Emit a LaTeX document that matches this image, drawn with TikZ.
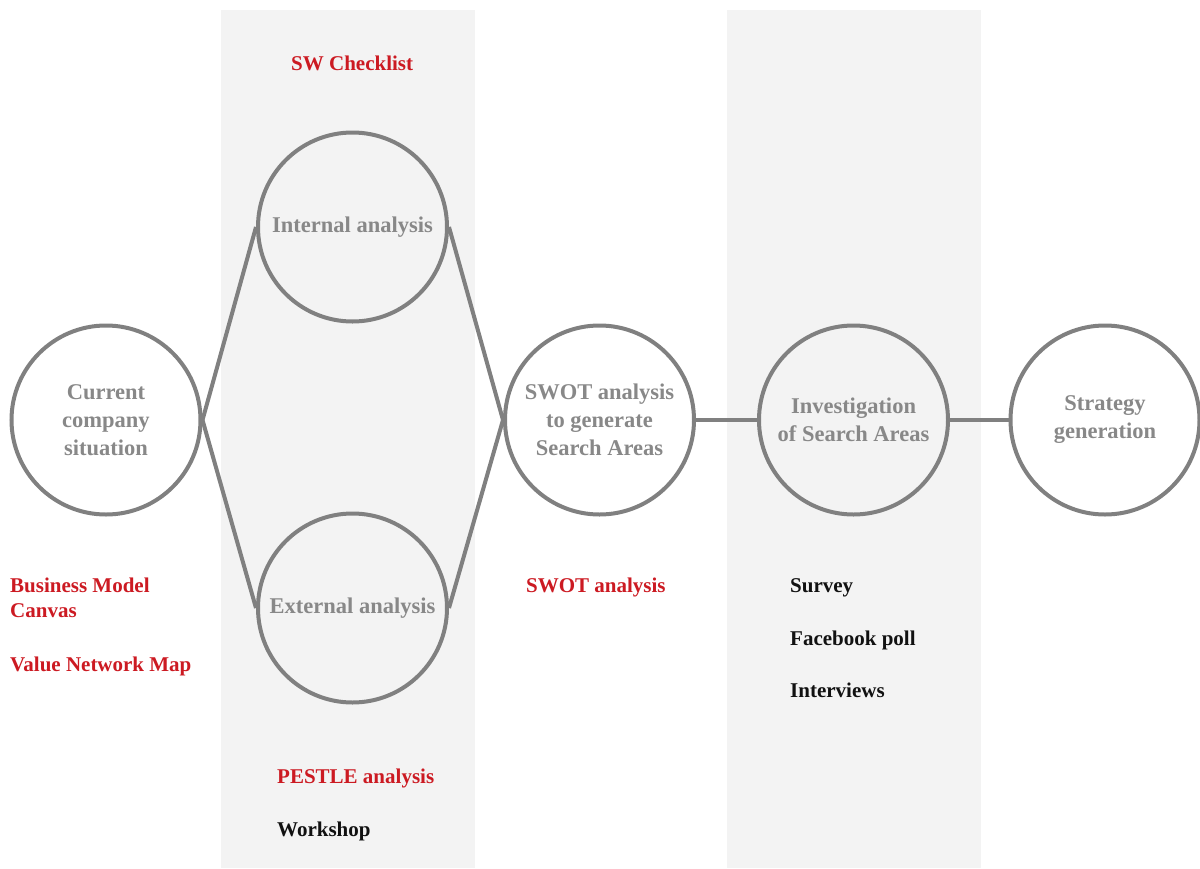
\documentclass[tikz,border=0pt]{standalone}
\usepackage{fontspec}
\setmainfont{Liberation Serif}
\definecolor{band}{HTML}{F3F3F3}
\definecolor{lineg}{HTML}{808080}
\definecolor{textg}{HTML}{888888}
\definecolor{redl}{HTML}{CC1A22}
\definecolor{blackl}{HTML}{111111}
\begin{document}
\begin{tikzpicture}[x=1pt,y=-1pt,
  stage/.style={circle,draw=lineg,line width=4pt,minimum size=189pt,inner sep=0pt,
    text=textg,font=\fontsize{22.5}{28}\selectfont\bfseries,align=center},
  link/.style={draw=lineg,line width=4pt},
  redlabel/.style={anchor=base west,inner sep=0pt,text=redl,font=\fontsize{21}{25}\selectfont\bfseries,align=left},
  blacklabel/.style={anchor=base west,inner sep=0pt,text=blackl,font=\fontsize{21}{25}\selectfont\bfseries}
]
\useasboundingbox (0,0) rectangle (1200,868);
\fill[band] (221,10) rectangle (475,868);
\fill[band] (727,10) rectangle (981,868);

\node[stage] (cur) at (106,420) {Current\\company\\situation};
\node[stage] (int) at (352.5,227) {Internal analysis};
\node[stage] (ext) at (352.5,608) {External analysis};
\node[stage] (swot) at (599.5,420) {SWOT analysis\\to generate\\Search Areas};
\node[stage] (inv) at (853.5,420) {Investigation\\of Search Areas};
\node[stage] (str) at (1105,420) {Strategy\\generation};

\draw[link] (cur.east) -- (int.west);
\draw[link] (cur.east) -- (ext.west);
\draw[link] (int.east) -- (swot.west);
\draw[link] (ext.east) -- (swot.west);
\draw[link] (swot.east) -- (inv.west);
\draw[link] (inv.east) -- (str.west);

\node[redlabel] (sw) at (291,70) {SW Checklist};
\node[redlabel] (bmc) at (10,592) {Business Model};
\node[redlabel] (bmc2) at (10,617) {Canvas};
\node[redlabel] (vnm) at (10,671) {Value Network Map};
\node[redlabel] (swotl) at (526,592) {SWOT analysis};
\node[redlabel] (pestle) at (277,783) {PESTLE analysis};
\node[blacklabel] (work) at (277,836) {Workshop};
\node[blacklabel] (surv) at (790,592) {Survey};
\node[blacklabel] (fb) at (790,645) {Facebook poll};
\node[blacklabel] (intv) at (790,697) {Interviews};
\end{tikzpicture}
\end{document}
